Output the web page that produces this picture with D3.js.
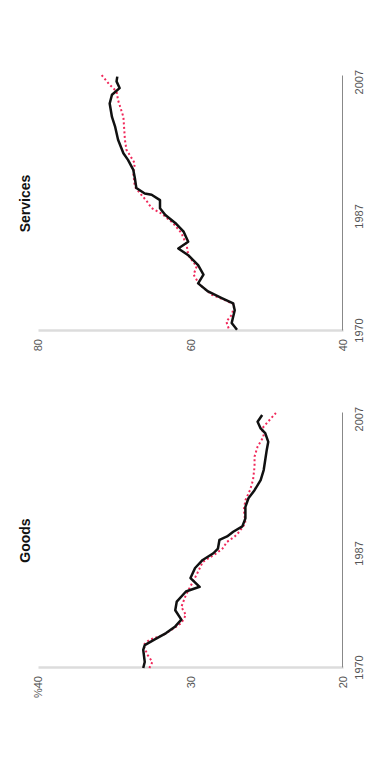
<!DOCTYPE html>
<html>
<head>
<meta charset="utf-8">
<script src="https://cdn.jsdelivr.net/npm/d3@7"></script>
<style>
  body { margin: 0; background: #fff; }
  text { font-family: "Liberation Sans", Arial, sans-serif; }
</style>
</head>
<body>
<div id="chart"></div>
<script>
// year ticks shown under each panel
var yearTicks = [1970, 1987, 2007];

// GOODS - solid black line
var goodsSolidYears = [1970.0, 1970.9, 1972.7, 1973.4, 1974.2, 1975.2, 1976.2, 1977.2, 1978.6, 1979.9,
  1981.4, 1982.1, 1983.4, 1984.9, 1986.1, 1987.1, 1987.8, 1989.1, 1989.6, 1990.3,
  1991.1, 1992.3, 1994.0, 1995.3, 1996.5, 1998.0, 1999.5, 2001.0, 2002.5, 2003.7,
  2005.0, 2005.7, 2006.7, 2007.7];
var goodsSolid = [33.1, 33.0, 33.1, 33.0, 32.4, 31.6, 31.0, 30.6, 31.0, 30.9,
  30.3, 29.4, 30.0, 29.7, 29.2, 28.5, 28.2, 28.1, 27.6, 27.2,
  26.6, 26.4, 26.4, 26.2, 25.8, 25.4, 25.2, 25.1, 25.0, 24.9,
  25.1, 25.4, 25.6, 25.3];

// GOODS - red dotted line
var goodsDottedYears = [1970.0, 1970.9, 1971.9, 1973.4, 1974.2, 1974.9, 1975.9, 1976.7, 1977.9, 1979.1,
  1980.9, 1982.6, 1983.9, 1985.8, 1987.1, 1987.8, 1988.8, 1989.6, 1990.3, 1991.6,
  1993.6, 1995.0, 1996.5, 1998.0, 2000.0, 2001.5, 2003.0, 2004.5, 2005.7, 2006.5, 2008.0];
var goodsDotted = [32.7, 32.5, 32.8, 33.1, 32.7, 31.8, 31.1, 30.6, 30.3, 30.6,
  30.3, 29.9, 29.6, 29.2, 28.3, 27.9, 27.6, 27.1, 26.8, 26.4,
  26.5, 26.4, 26.1, 25.9, 25.8, 25.8, 25.6, 25.2, 25.3, 25.0, 24.4];

// SERVICES - solid black line
var servicesSolidYears = [1970.2, 1971.2, 1973.1, 1974.1, 1974.9, 1975.9, 1977.1, 1978.4, 1979.8, 1981.3,
  1982.3, 1983.3, 1984.8, 1986.1, 1987.3, 1988.3, 1989.5, 1990.3, 1990.5, 1991.3,
  1992.8, 1994.0, 1995.5, 1996.5, 1998.5, 2000.5, 2001.9, 2003.9, 2005.2, 2006.2,
  2007.2, 2007.9];
var servicesSolid = [53.9, 54.6, 54.2, 54.4, 55.9, 57.7, 59.0, 58.3, 59.0, 60.3,
  61.6, 60.3, 60.9, 62.0, 63.3, 64.0, 64.0, 65.1, 66.0, 67.1,
  67.3, 67.5, 68.2, 68.8, 69.5, 69.9, 70.3, 70.6, 70.3, 69.3,
  69.7, 69.6];

// SERVICES - red dotted line
var servicesDottedYears = [1970.4, 1971.4, 1972.4, 1973.9, 1974.6, 1975.4, 1976.9, 1978.4, 1979.6, 1981.3,
  1982.8, 1984.6, 1986.1, 1987.5, 1988.3, 1989.3, 1990.5, 1991.5, 1993.5, 1995.0,
  1997.0, 1998.5, 2001.9, 2004.4, 2005.7, 2006.7, 2008.2];
var servicesDotted = [55.0, 55.3, 54.6, 54.2, 55.5, 57.2, 58.8, 59.6, 59.2, 60.3,
  60.5, 61.2, 62.3, 63.8, 65.1, 65.7, 66.6, 67.3, 67.5, 67.3,
  68.4, 68.6, 68.8, 69.5, 69.7, 70.6, 71.7];

var panels = [
  { title: 'Goods', left: 103, yTicks: [20, 30, 40], yDomain: [20, 40], unitTop: true,
    solid: d3.zip(goodsSolidYears, goodsSolid), dotted: d3.zip(goodsDottedYears, goodsDotted) },
  { title: 'Services', left: 440, yTicks: [40, 60, 80], yDomain: [40, 80], unitTop: false,
    solid: d3.zip(servicesSolidYears, servicesSolid), dotted: d3.zip(servicesDottedYears, servicesDotted) }
];

var width = 377, height = 771;
var panelWidth = 255;

var svg = d3.select('#chart')
  .append('svg')
    .attr('width', width)
    .attr('height', height);

// the whole chart is printed on its side
var page = svg.append('g')
  .attr('transform', `translate(0,${height}) rotate(-90)`);

panels.forEach(function(p){
  var x = d3.scaleLinear()
    .domain([1970, 2008])
    .range([p.left, p.left + panelWidth]);

  var y = d3.scaleLinear()
    .domain(p.yDomain)
    .range([343, 38]);

  var g = page.append('g');

  // value axis (light grey)
  var yAxis = d3.axisLeft(y)
    .tickValues(p.yTicks)
    .tickSize(0)
    .tickPadding(8)
    .tickFormat(d => (p.unitTop && d === p.yDomain[1]) ? '%' + d : d);

  var ya = g.append('g')
    .attr('transform', `translate(${x(1970)},0)`)
    .call(yAxis);
  ya.select('.domain').attr('stroke', '#dcdcdc').attr('stroke-width', 2.5);
  ya.selectAll('text').attr('fill', '#555').style('font-size', '11px');

  // year axis
  var xAxis = d3.axisBottom(x)
    .tickValues(yearTicks)
    .tickSize(0)
    .tickPadding(13)
    .tickFormat(d3.format('d'));

  var xa = g.append('g')
    .attr('transform', `translate(0,${y(p.yDomain[0]) - 1})`)
    .call(xAxis);
  xa.select('.domain').attr('stroke', '#888').attr('stroke-width', 1);
  xa.selectAll('text').attr('fill', '#555').style('font-size', '11px');

  // title
  g.append('text')
    .attr('x', (x.range()[0] + x.range()[1]) / 2)
    .attr('y', 30)
    .attr('text-anchor', 'middle')
    .style('font-size', '14px')
    .style('font-weight', 'bold')
    .attr('fill', '#111')
    .text(p.title);

  var line = d3.line()
    .x(d => x(d[0]))
    .y(d => y(d[1]));

  g.append('path')
    .datum(p.dotted)
    .attr('d', line)
    .style('fill', 'none')
    .style('stroke', '#f0285a')
    .style('stroke-width', 2)
    .style('stroke-dasharray', '2,2.5');

  g.append('path')
    .datum(p.solid)
    .attr('d', line)
    .style('fill', 'none')
    .style('stroke', '#111')
    .style('stroke-width', 2.5)
    .style('stroke-linejoin', 'round');
});
</script>
</body>
</html>
